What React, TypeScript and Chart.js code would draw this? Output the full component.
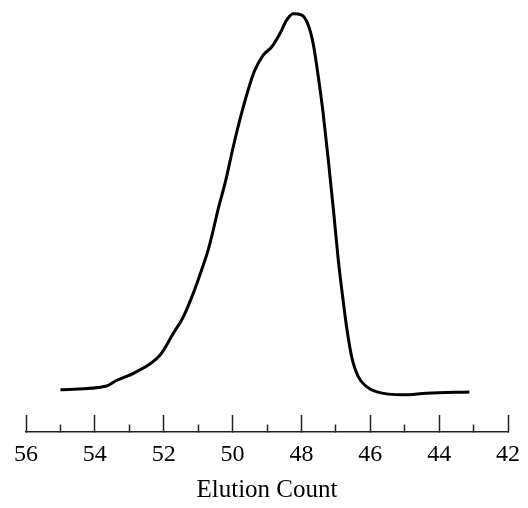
import React, { useEffect, useRef } from "react";
import { Chart, registerables } from "chart.js";

Chart.register(...registerables);

const elutionCount = [55.0, 53.66, 53.37, 52.88, 52.11, 51.72, 51.43, 51.14, 50.9, 50.71, 50.56, 50.41, 50.22, 49.98, 49.74, 49.49, 49.35, 49.11, 48.86, 48.62, 48.43, 48.24, 47.99, 47.8, 47.66, 47.51, 47.37, 47.22, 47.07, 46.93, 46.78, 46.69, 46.54, 46.35, 46.1, 45.81, 45.04, 44.36, 43.12];
const response = [10.0, 10.9, 12.2, 13.9, 18.2, 23.4, 27.3, 32.9, 38.4, 43.1, 47.9, 53.1, 58.9, 67.6, 75.5, 82.6, 85.8, 89.3, 91.3, 94.5, 97.6, 99.1, 98.8, 96.4, 92.1, 84.2, 75.6, 64.5, 52.6, 40.8, 30.6, 25.0, 17.8, 13.1, 10.7, 9.5, 8.8, 9.2, 9.5];

const xMin = 42;
const xMax = 56;
const axisTitle = "Elution Count";

export default function App() {
  const ref = useRef<HTMLCanvasElement>(null);
  useEffect(() => {
    if (!ref.current) return;
    const chart = new Chart(ref.current, {
      type: "line",
      data: {
        datasets: [
          {
            data: elutionCount.map((x, i) => ({ x, y: response[i] })),
            borderColor: "#000",
            borderWidth: 3,
            pointRadius: 0,
            cubicInterpolationMode: "monotone",
            fill: false,
          },
        ],
      },
      options: {
        animation: false,
        responsive: false,
        layout: { padding: { left: 26, right: 20, top: 10, bottom: 0 } },
        plugins: { legend: { display: false }, tooltip: { enabled: false } },
        scales: {
          x: {
            type: "linear",
            position: "bottom",
            reverse: true,
            min: xMin,
            max: xMax,
            afterFit: (scale: any) => {
              scale.height = 76;
              scale.paddingLeft = 0;
              scale.paddingRight = 0;
            },
            border: { display: true, color: "#222", width: 1.5 },
            grid: {
              drawOnChartArea: false,
              drawTicks: true,
              tickLength: -17,
              color: "#222",
              tickWidth: 1.5,
              tickBorderDash: (ctx: any) =>
                ctx.tick && Math.round(ctx.tick.value) % 2 === 0 ? [] : [8, 40],
            },
            ticks: {
              stepSize: 1,
              autoSkip: false,
              maxRotation: 0,
              padding: 25,
              color: "#000",
              font: { family: "'Liberation Serif', serif", size: 24 },
              callback: (v: any) => (Math.round(v) % 2 === 0 ? String(v) : ""),
            },
            title: {
              display: true,
              text: axisTitle,
              color: "#000",
              font: { family: "'Liberation Serif', serif", size: 25 },
              padding: { top: 0, bottom: 3 },
            },
          },
          y: { display: false, min: 0, max: 100 },
        },
      },
    });
    return () => chart.destroy();
  }, []);
  return (
    <div style={{ position: "fixed", left: 0, top: 0, width: 528, height: 508, background: "#fff" }}>
      <canvas ref={ref} width={528} height={508} />
    </div>
  );
}
